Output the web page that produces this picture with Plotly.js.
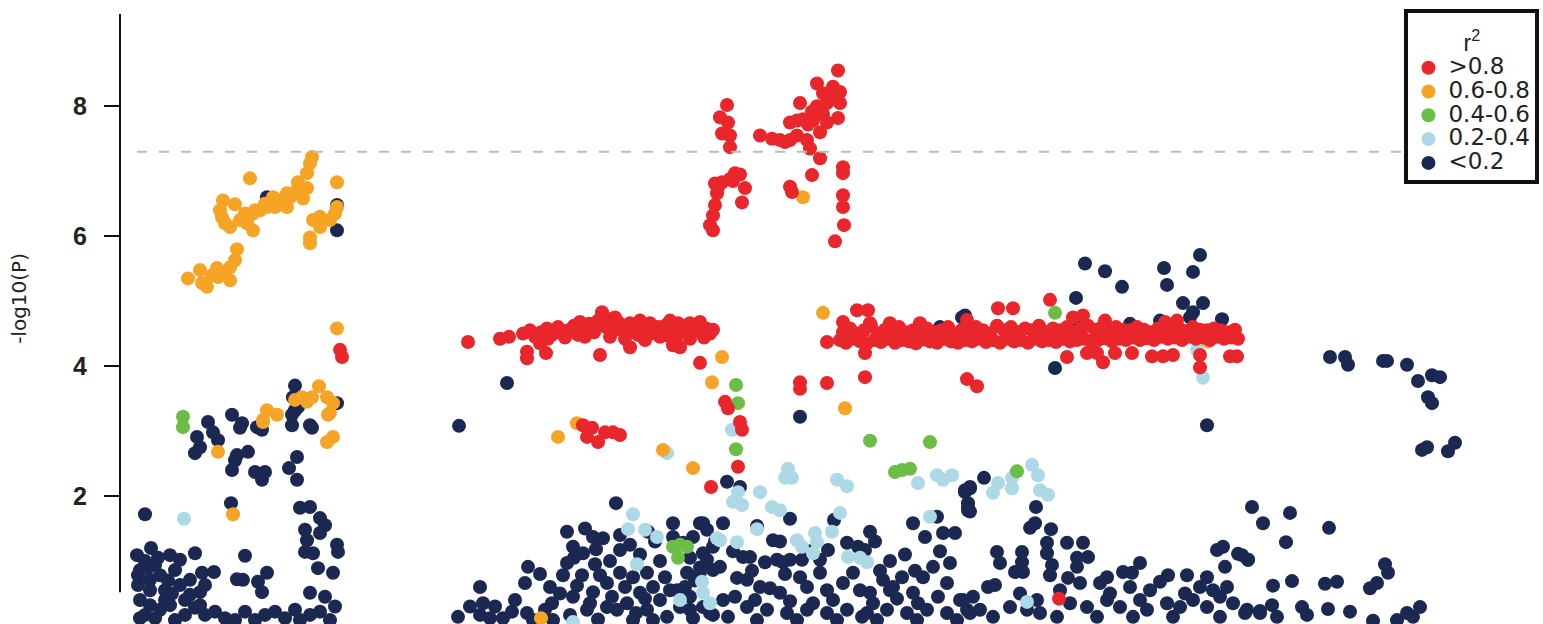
<!DOCTYPE html>
<html>
<head>
<meta charset="utf-8">
<script src="https://cdn.plot.ly/plotly-3.0.1.min.js"></script>
<style>html,body{margin:0;padding:0;background:#fff;}#chart{width:1543px;height:624px;}</style>
</head>
<body>
<div id="chart"></div>
<script>
// r2 classes (legend labels)
const r2Labels = ['>0.8', '0.6-0.8', '0.4-0.6', '0.2-0.4', '<0.2'];
const r2Colors = ['#E8262B', '#F6A425', '#6ABD45', '#ADD8E6', '#1B2852'];

// [position, -log10(P)]
const snpsR2gt08 = [
  [340,4.25],[342,4.14],
  [468,4.37],[500,4.42],[509,4.45],[527,4.22],[527,4.12],[546,4.2],[540,4.35],[600,4.17],[630,4.29],[673,4.32],[680,4.29],[700,4.05],
  [725,3.45],[728,3.35],[740,3.14],[742,3.02],[738,2.45],[711,2.14],
  [583,3.09],[592,3.05],[587,2.91],[598,2.83],[605,2.98],[613,2.98],[620,2.94],
  [800,3.75],[800,3.65],[827,3.74],[827,4.37],[865,4.2],[865,3.83],
  [727,8.02],[720,7.83],[728,7.75],[722,7.58],[730,7.55],[730,7.37],[735,6.97],[715,6.81],[730,6.88],[745,6.74],[717,6.66],[742,6.52],[715,6.48],[713,6.32],[710,6.17],[713,6.09],[733,6.85],[722,6.83],[740,6.95],[718,6.75],
  [760,7.55],[772,7.5],[780,7.48],[790,7.48],[797,7.55],[807,7.48],[810,7.35],[790,7.75],[797,7.78],[803,7.8],[813,7.78],[820,7.6],[800,8.05],[817,8.35],[823,8.2],[833,8.3],[840,8.22],[838,8.55],[817,8.0],[827,8.05],[840,8.05],[823,7.88],[838,7.82],[827,7.75],[830,8.12],[812,7.92],[808,7.72],[785,7.45],
  [820,7.2],[812,6.94],[790,6.76],[792,6.68],[843,7.06],[843,6.97],[843,6.63],[843,6.45],[844,6.17],[835,5.92],
  [523,4.5],[530,4.55],[535,4.45],[541,4.52],[547,4.58],[552,4.48],[558,4.6],[563,4.5],[568,4.55],[574,4.62],[578,4.48],[584,4.58],[589,4.65],[594,4.52],[598,4.7],[602,4.83],[606,4.6],[610,4.72],[614,4.55],[618,4.68],[622,4.62],[626,4.5],[630,4.66],[634,4.58],[638,4.48],[642,4.64],[646,4.56],[650,4.66],[654,4.5],[658,4.6],[662,4.55],[666,4.63],[670,4.45],[674,4.6],[678,4.66],[682,4.52],[686,4.62],[690,4.66],[694,4.55],[698,4.6],[702,4.52],[706,4.58],[710,4.5],[713,4.56],
  [548,4.42],[565,4.44],[585,4.45],[610,4.45],[625,4.42],[645,4.4],[660,4.45],[676,4.38],[690,4.42],[704,4.44],[580,4.68],[615,4.75],[640,4.7],[670,4.7],[700,4.68],
  [857,4.86],[868,4.86],[998,4.89],[1013,4.89],[1050,5.02],[967,3.8],[977,3.69],[1067,4.14],[1087,4.2],[1097,4.2],[1103,4.06],[1115,4.2],[1132,4.2],[1152,4.15],[1163,4.15],[1173,4.17],[1200,4.17],[1200,3.98],[1230,4.15],[1237,4.15],
  [920,4.66],[967,4.71],[1073,4.75],[1083,4.78],[1105,4.7],[1165,4.68],[1177,4.7],[890,4.66],[843,4.68],[870,4.66],
  [840,4.4],[846,4.36],[853,4.42],[860,4.38],[867,4.35],[874,4.4],[881,4.37],[888,4.42],[895,4.36],[902,4.4],[909,4.38],[916,4.35],[923,4.41],[930,4.38],[937,4.36],[944,4.42],[951,4.38],[958,4.36],[965,4.4],[972,4.38],[979,4.42],[986,4.37],[993,4.4],[1000,4.36],[1007,4.42],[1014,4.38],[1021,4.4],[1028,4.36],[1035,4.42],[1042,4.38],[1049,4.4],[1056,4.37],[1063,4.42],[1070,4.38],[1077,4.4],[1084,4.42],[1091,4.38],[1098,4.4],[1105,4.43],[1112,4.38],[1119,4.42],[1126,4.4],[1133,4.44],[1140,4.4],[1147,4.43],[1154,4.4],[1161,4.45],[1168,4.42],[1175,4.44],[1182,4.4],[1189,4.45],[1196,4.42],[1203,4.44],[1210,4.4],[1217,4.45],[1224,4.42],[1231,4.44],[1238,4.42],
  [843,4.52],[850,4.58],[857,4.5],[864,4.55],[871,4.62],[878,4.5],[885,4.56],[892,4.5],[899,4.6],[906,4.52],[913,4.55],[920,4.5],[927,4.58],[934,4.52],[941,4.55],[948,4.6],[955,4.5],[962,4.56],[969,4.52],[976,4.6],[983,4.55],[990,4.5],[997,4.62],[1004,4.55],[1011,4.6],[1018,4.52],[1025,4.58],[1032,4.55],[1039,4.62],[1046,4.52],[1053,4.58],[1060,4.55],[1067,4.6],[1074,4.52],[1081,4.58],[1088,4.62],[1095,4.56],[1102,4.6],[1109,4.54],[1116,4.6],[1123,4.56],[1130,4.55],[1137,4.6],[1144,4.56],[1151,4.52],[1158,4.58],[1165,4.6],[1172,4.55],[1179,4.58],[1186,4.54],[1193,4.6],[1200,4.56],[1207,4.55],[1214,4.58],[1221,4.55],[1228,4.52],[1235,4.56],
  [1059,0.42]
];

const snpsR2_06_08 = [
  [188,5.35],[200,5.48],[202,5.28],[207,5.22],[217,5.51],[218,5.37],[230,5.32],[230,5.52],[235,5.63],[237,5.80],[212,5.4],[225,5.45],
  [250,6.89],[223,6.55],[235,6.49],[220,6.40],[222,6.29],[230,6.14],[240,6.25],[247,6.20],[253,6.09],[253,6.35],[260,6.40],[267,6.45],[273,6.60],[280,6.55],[287,6.45],[287,6.66],[297,6.71],[298,6.83],[307,6.74],[303,6.58],[307,6.97],[310,7.12],[312,7.22],[337,6.83],[313,6.25],[320,6.14],[310,5.98],[310,5.89],[330,6.25],[335,6.35],[337,6.45],[265,6.5],[275,6.45],[245,6.35],[225,6.2],[290,6.6],[255,6.4],[320,6.3],
  [337,4.58],[295,3.48],[302,3.52],[307,3.45],[312,3.52],[319,3.69],[327,3.52],[333,3.43],[330,3.28],[267,3.32],[277,3.25],[263,3.17],[263,3.14],[328,3.25],[333,2.91],[327,2.83],[218,2.68],[233,1.72],[541,0.12],
  [577,3.12],[558,2.91],[663,2.71],[693,2.43],[712,3.75],[722,4.14],[845,3.35],[803,6.6],[823,4.82],[1115,4.57],[1208,4.38]
];

const snpsR2_04_06 = [
  [183,3.22],[183,3.06],[736,3.71],[738,3.43],[736,2.72],[870,2.85],[930,2.83],[895,2.37],[902,2.40],[910,2.42],[673,1.22],[687,1.22],[678,1.05],[680,1.25],[1017,2.38],[1055,4.82]
];

const snpsR2_02_04 = [
  [184,1.65],[667,2.66],[633,1.72],[628,1.49],[645,1.48],[657,1.37],[717,1.35],[637,0.95],[702,0.68],[703,0.51],[680,0.40],[710,0.35],[573,0.06],
  [732,3.02],[788,2.42],[785,2.28],[792,2.28],[837,2.25],[847,2.15],[760,2.06],[738,2.06],[733,1.91],[742,1.86],[772,1.83],[780,1.78],[840,1.74],[757,1.49],[720,1.32],[737,1.29],[797,1.32],[802,1.22],[815,1.43],[817,1.29],[832,1.45],[813,1.12],[848,1.06],[860,1.05],[867,0.98],
  [918,2.2],[937,2.32],[952,2.32],[943,2.25],[930,1.68],[1032,2.48],[1038,2.32],[1012,2.28],[998,2.2],[993,2.05],[1012,2.12],[1040,2.09],[1048,2.02],[1027,0.37],[1197,4.25],[1203,3.82]
];

const snpsR2lt02 = [
  [267,6.6],[337,6.48],[337,6.09],
  [295,3.7],[293,3.52],[298,3.37],[292,3.25],[337,3.43],[310,3.09],[232,3.25],[208,3.14],[242,3.12],
  [240,3.05],[257,3.06],[262,3.02],[292,3.09],[295,3.32],[312,3.05],[197,2.91],[200,2.75],[195,2.66],[213,2.98],[218,2.86],[237,2.63],[248,2.68],[235,2.55],[232,2.4],[255,2.37],[265,2.37],[262,2.25],[289,2.43],[297,2.6],[297,2.25],
  [145,1.72],[231,1.89],[300,1.82],[310,1.83],[320,1.66],[325,1.55],[305,1.48],[320,1.43],[307,1.32],[305,1.14],[313,1.12],[337,1.25],[338,1.14],[318,0.89],[333,0.82],[310,0.51],
  [151,1.2],[170,1.09],[195,1.12],[245,1.08],[202,0.82],[214,0.83],[205,0.63],[200,0.52],[237,0.72],[243,0.71],[258,0.68],[267,0.82],[262,0.52],
  [137,1.09],[145,1.0],[140,0.86],[155,0.94],[160,0.78],[150,0.71],[138,0.63],[165,0.55],[175,0.86],[180,0.63],[185,0.4],[140,0.4],[150,0.32],[160,0.25],[170,0.32],[185,0.17],[195,0.28],[205,0.17],[215,0.22],[225,0.12],[235,0.09],[245,0.22],[255,0.09],[265,0.17],[275,0.22],[285,0.12],[295,0.25],[300,0.09],[310,0.17],[320,0.22],[330,0.09],[145,0.17],[175,0.09],[190,0.48],[200,0.32],[138,0.78],[150,0.55],[165,0.4],[180,1.02],[190,0.71],[140,0.12],[155,0.12],[168,0.7],[148,0.9],[158,1.05],[172,0.5],[325,0.45],[335,0.3],
  [507,3.74],[459,3.08],[616,1.89],[800,3.22],
  [567,1.45],[593,1.37],[603,1.35],[573,1.22],[583,1.12],[567,0.97],[563,0.78],[582,0.78],[528,0.91],[525,0.66],[480,0.6],[483,0.35],[458,0.14],[480,0.17],[503,0.12],[527,0.2],[552,0.35],[573,0.45],[593,0.52],[607,0.66],[620,0.82],[620,1.17],[633,0.75],[647,0.82],[653,0.6],[640,0.51],[627,0.35],[607,0.29],[587,0.25],[570,0.17],
  [673,1.58],[673,1.37],[683,1.28],[700,1.58],[707,1.48],[703,1.12],[713,0.86],[687,0.82],[677,0.55],[660,0.4],[680,0.29],[703,0.29],[647,0.25],[667,0.14],[693,0.12],[713,0.17],[617,0.25],[633,0.09],[653,0.09],[553,0.09],[533,0.09],
  [610,1.0],[595,0.95],[640,1.1],[655,1.3],[660,1.0],[690,1.05],[625,0.6],[600,0.78],[550,0.6],[540,0.8],[515,0.4],[495,0.3],[690,0.45],[665,0.75],[620,1.4],[585,1.5],[700,0.9],[715,1.3],
  [470,0.3],[490,0.12],[512,0.22],[545,0.25],[560,0.5],[577,0.62],[598,0.1],[612,0.45],[645,0.42],[670,0.55],[695,0.7],[574,1.05],[596,1.18],[630,1.25],[648,1.45],[590,0.35],[636,0.2],
  [727,2.22],[740,2.14],[790,1.65],[757,1.54],[834,1.63],[870,1.45],[913,1.58],[925,1.37],[937,1.68],[943,1.43],[955,1.43],[965,2.09],[970,2.14],[968,1.83],[970,1.76],
  [703,1.58],[723,1.58],[693,1.37],[713,1.22],[707,1.02],[720,0.91],[700,0.83],[685,0.6],[690,0.25],[710,0.2],[728,0.14],[743,1.06],[750,1.06],[765,0.98],[773,1.32],[777,1.02],[783,0.98],[790,1.02],[802,1.02],[820,1.02],[828,1.17],[847,1.28],[858,1.22],[865,1.17],
  [737,0.74],[747,0.71],[760,0.6],[770,0.58],[780,0.51],[800,0.75],[807,0.6],[820,0.82],[827,0.55],[843,0.66],[853,0.82],[860,0.55],[870,0.51],[883,0.71],[893,0.6],[902,0.75],[913,0.51],[923,0.75],[933,0.91],[950,0.97],[947,0.66],[960,0.4],[967,0.25],
  [747,0.29],[767,0.25],[787,0.2],[807,0.25],[827,0.2],[847,0.25],[867,0.2],[887,0.25],[907,0.2],[927,0.25],[947,0.2],[973,0.45],[723,0.4],[813,0.35],[862,0.14],
  [757,0.09],[797,0.09],[837,0.09],[877,0.09],[917,0.09],[957,0.09],[780,1.3],[810,1.15],[890,1.0],[905,1.1],[880,0.85],[940,1.15],
  [735,0.45],[755,0.4],[790,0.38],[833,0.4],[873,0.35],[897,0.42],[918,0.35],[938,0.45],[890,0.55],[915,0.85],[875,1.3],[752,0.85],[785,0.8],[733,1.15],
  [984,2.28],[970,2.12],[965,2.06],[968,1.89],[968,1.78],[1036,1.83],[1035,1.58],[1030,1.51],[1051,1.49],[997,1.14],[1000,0.97],[1022,1.14],[1022,0.98],[1015,0.83],[1023,0.83],[1047,1.28],[1047,1.12],[1052,0.94],[1050,0.78],[1067,1.28],[1083,1.28],[1088,1.06],[1077,1.05],[1077,0.91],[1068,0.74],[1080,0.66],[988,0.6],[995,0.63],
  [1107,0.75],[1100,0.66],[1123,0.83],[1140,0.97],[1132,0.82],[1160,0.68],[1168,0.78],[1187,0.78],[1207,0.75],[1217,1.17],[1223,1.22],[1225,0.91],[1238,1.11],[1248,1.02],[1213,0.55],[1227,0.6],[1200,0.6],[1220,0.45],
  [963,0.4],[980,0.25],[1010,0.29],[1037,0.4],[1040,0.2],[1070,0.35],[1087,0.29],[1107,0.4],[1120,0.29],[1140,0.4],[1147,0.25],[1167,0.35],[1180,0.29],[1193,0.4],[1207,0.29],[1233,0.35],[1247,0.25],[1260,0.2],[993,0.14],[1057,0.14],[1097,0.14],[1133,0.14],[1173,0.14],[1220,0.14],[970,0.2],[1027,0.25],
  [1110,0.5],[1150,0.55],[1185,0.5],[1060,0.55],[1130,0.6],[1020,0.5],[1207,3.09],
  [1085,5.58],[1105,5.46],[1122,5.22],[1164,5.51],[1167,5.25],[1193,5.45],[1200,5.71],[1076,5.05],[1183,4.97],[1193,4.83],[1203,4.97],[1190,4.75],[1222,4.72],[1055,3.97],[962,4.75],[1105,4.43],[1130,4.65],[1160,4.7],[1078,4.6],[940,4.6],[965,4.78],
  [1330,4.14],[1345,4.14],[1348,4.02],[1383,4.08],[1387,4.08],[1407,4.02],[1418,3.77],[1432,3.86],[1440,3.83],[1428,3.52],[1432,3.43],[1427,2.75],[1422,2.71],[1455,2.82],[1448,2.69],
  [1252,1.83],[1263,1.58],[1290,1.74],[1286,1.29],[1329,1.51],[1242,1.09],[1248,1.02],[1273,0.62],[1292,0.69],[1325,0.65],[1337,0.68],[1385,0.95],[1388,0.82],[1370,0.58],[1377,0.66],
  [1245,0.2],[1260,0.23],[1272,0.32],[1277,0.14],[1302,0.29],[1307,0.17],[1328,0.26],[1350,0.22],[1373,0.08],[1397,0.09],[1407,0.2],[1420,0.29],[1413,0.14]
];

const significanceLine = 7.3;

// draw order: lowest r2 first so high-LD SNPs sit on top
const seriesData = [snpsR2gt08, snpsR2_06_08, snpsR2_04_06, snpsR2_02_04, snpsR2lt02];
const esc = s => s.replace(/</g, '&lt;').replace(/>/g, '&gt;');
const traces = [];
for (let i = seriesData.length - 1; i >= 0; i--) {
  traces.push({
    type: 'scatter', mode: 'markers',
    x: seriesData[i].map(d => d[0]),
    y: seriesData[i].map(d => d[1]),
    name: '<span style="font-size:23px">' + esc(r2Labels[i]) + '</span>',
    marker: {color: r2Colors[i], size: 14, line: {width: 0}},
    cliponaxis: true,
    hoverinfo: 'x+y'
  });
}

const layout = {
  width: 1543, height: 624,
  margin: {l: 120, r: 0, t: 14, b: 0, pad: 0},
  paper_bgcolor: '#fff', plot_bgcolor: '#fff',
  font: {family: 'Liberation Sans, Arial, sans-serif', color: '#222'},
  showlegend: true,
  xaxis: {visible: false, range: [120, 1543], fixedrange: true},
  yaxis: {
    range: [0.03, 9.42], showgrid: false, zeroline: false, showline: false,
    tickvals: [2, 4, 6, 8], ticks: 'outside', ticklen: 15, tickwidth: 2, tickcolor: '#111',
    tickfont: {size: 25, weight: 'bold', color: '#222', family: 'Liberation Sans, Arial, sans-serif'},
    ticklabelstandoff: 12
  },
  legend: {
    x: 0.9975, xanchor: 'right', y: 1.008, yanchor: 'top',
    bgcolor: '#fff', bordercolor: '#111', borderwidth: 4,
    font: {size: 16, color: '#222', family: 'DejaVu Sans, sans-serif'},
    title: {text: '<span style="font-size:23px">r<sup>2</sup></span>', side: 'top center', font: {size: 29, color: '#222', family: 'Liberation Sans, Arial, sans-serif'}},
    traceorder: 'reversed', itemclick: false, itemwidth: 30
  },
  shapes: [
    {type: 'line', xref: 'paper', yref: 'y', x0: 0, x1: 0, y0: 0.52, y1: 9.42, line: {color: '#111', width: 2}},
    {type: 'line', xref: 'x', yref: 'y', x0: 137, x1: 1543, y0: significanceLine, y1: significanceLine, layer: 'above',
     line: {color: '#BBBBBB', width: 2, dash: '10px,12px'}}
  ],
  annotations: [
    {text: '-log10(P)', xref: 'paper', yref: 'y', x: -0.071, y: 5.05, textangle: -90, showarrow: false,
     xanchor: 'center', yanchor: 'middle', font: {size: 20, color: '#222', family: 'DejaVu Sans, sans-serif'}}
  ]
};

Plotly.newPlot('chart', traces, layout, {displayModeBar: false, staticPlot: true});
</script>
</body>
</html>
